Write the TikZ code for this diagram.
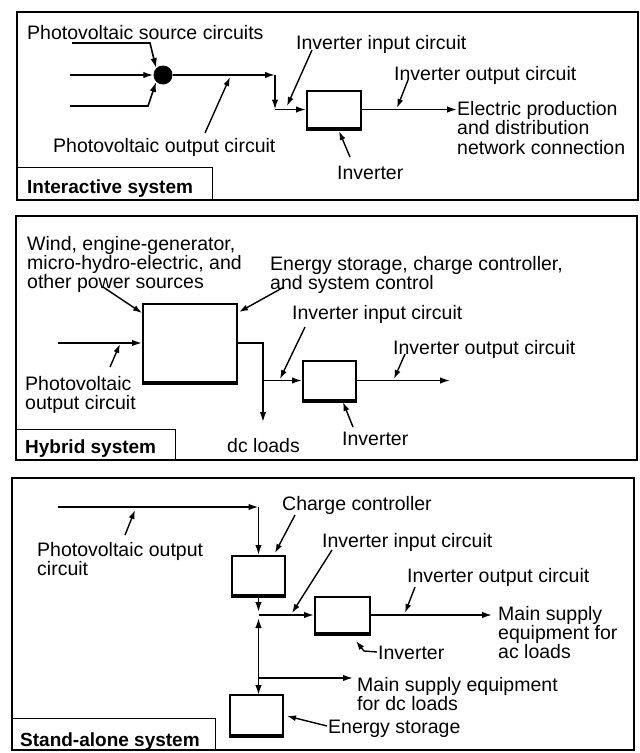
\documentclass[tikz,border=0pt]{standalone}
\usepackage{fontspec}
\setmainfont{Liberation Sans}
\usetikzlibrary{arrows.meta}
\begin{document}
\begin{tikzpicture}[x=1pt,y=-1pt,
  lab/.style={anchor=north west, inner sep=0pt, align=left, font=\fontsize{19.5}{18.5}\selectfont},
  ttl/.style={anchor=north west, inner sep=0pt, font=\bfseries\fontsize{19}{20}\selectfont},
  blk/.style={draw, line width=2pt, inner sep=0pt, fill=white},
  wire/.style={line width=1.6pt, -{Latex[length=10pt,width=6.5pt]}},
  plainwire/.style={line width=1.6pt},
  ptr/.style={line width=1.4pt, -{Latex[length=9pt,width=6pt]}},
  frame/.style={line width=1.4pt},
  heavy/.style={line width=3.4pt}
]
\useasboundingbox (0,0) rectangle (640,753);

% ---------------- Panel 1 : Interactive system ----------------
\draw[frame] (17,12) rectangle (638,200);
\node[draw, frame, minimum width=195pt, minimum height=33pt, inner sep=0pt, anchor=north west] (t1box) at (17,167) {};
\node[ttl] (t1) at (27,180) {Interactive system};

\node[lab] (src) at (27,25) {Photovoltaic source circuits};
\node[lab] (inin1) at (296,35) {Inverter input circuit};
\node[lab] (inout1) at (394,66) {Inverter output circuit};
\node[lab, font=\fontsize{19.5}{19.5}\selectfont] (elec) at (457,101) {Electric production\\and distribution\\network connection};
\node[lab] (pvout1) at (53,138) {Photovoltaic output circuit};
\node[lab] (inv1lab) at (337,166) {Inverter};

\node[circle, fill=black, minimum size=19pt, inner sep=0pt] (dot) at (163,75) {};
\node[blk, minimum width=54pt, minimum height=37pt] (inv1) at (334,109.5) {};
\draw[heavy] (inv1.south west) -- (inv1.south east);

\coordinate (s1a) at (72,43);
\coordinate (s1b) at (150,43);
\coordinate (s2a) at (70,75);
\coordinate (s3a) at (70,106);
\coordinate (s3b) at (148,106);
\draw[wire] (s1a) -- (s1b) -- (dot.north west);
\draw[wire] (s2a) -- (dot.west);
\draw[wire] (s3a) -- (s3b) -- (dot.south west);

\coordinate (c1) at (275,75);
\coordinate (c2) at (275,109.5);
\draw[wire] (dot.east) -- (c1);
\draw[wire] (c1) -- (c2);
\draw[wire] (c2) -- (inv1.west);
\coordinate (e1) at (457,109.5);
\draw[wire] (inv1.east) -- (e1);

\coordinate (p1a) at (205,133);
\coordinate (p1b) at (230,77);
\draw[ptr] (p1a) -- (p1b);
\coordinate (p2a) at (312,50);
\coordinate (p2b) at (287,106);
\draw[ptr] (p2a) -- (p2b);
\coordinate (p3a) at (408,80);
\coordinate (p3b) at (397,108);
\draw[ptr] (p3a) -- (p3b);
\coordinate (p4a) at (350,157);
\coordinate (p4b) at (339,131);
\draw[ptr] (p4a) -- (p4b);

% ---------------- Panel 2 : Hybrid system ----------------
\draw[frame] (16,216) rectangle (637,460);
\node[draw, frame, minimum width=159pt, minimum height=31pt, inner sep=0pt, anchor=north west] (t2box) at (16,429) {};
\node[ttl] (t2) at (25,440) {Hybrid system};

\node[lab, font=\fontsize{19.5}{17.5}\selectfont] (wind) at (27,236) {Wind, engine-generator,\\micro-hydro-electric, and\\other power sources};
\node[lab, font=\fontsize{19.5}{14.5}\selectfont] (energy) at (270,256) {Energy storage, charge controller,\\and system control};
\node[lab] (inin2) at (292,305) {Inverter input circuit};
\node[lab] (inout2) at (393,340) {Inverter output circuit};
\node[lab, font=\fontsize{19.5}{19}\selectfont] (pvout2) at (25,376) {Photovoltaic\\output circuit};
\node[lab] (inv2lab) at (342,432) {Inverter};
\node[lab] (dcl2) at (227,438) {dc loads};

\node[blk, minimum width=94pt, minimum height=78pt] (big) at (190,343) {};
\draw[heavy] (big.south west) -- (big.south east);
\node[blk, minimum width=53pt, minimum height=39pt] (inv2) at (329.5,380.5) {};
\draw[heavy] (inv2.south west) -- (inv2.south east);

\coordinate (h1) at (58,343);
\draw[wire] (h1) -- (big.west);
\coordinate (h2) at (263,343);
\coordinate (h3) at (263,380.5);
\coordinate (h4) at (263,422);
\draw[plainwire] (big.east) -- (h2) -- (h3);
\draw[wire] (h3) -- (h4);
\draw[wire] (h3) -- (inv2.west);
\coordinate (h5) at (450,380.5);
\draw[wire] (inv2.east) -- (h5);

\coordinate (q1a) at (110,367);
\coordinate (q1b) at (120,344);
\draw[ptr] (q1a) -- (q1b);
\coordinate (q2a) at (103,287);
\coordinate (q2b) at (142,313);
\draw[ptr] (q2a) -- (q2b);
\coordinate (q3a) at (284,287);
\coordinate (q3b) at (239,312);
\draw[ptr] (q3a) -- (q3b);
\coordinate (q4a) at (305,327);
\coordinate (q4b) at (280,379);
\draw[ptr] (q4a) -- (q4b);
\coordinate (q5a) at (405,354);
\coordinate (q5b) at (394,379);
\draw[ptr] (q5a) -- (q5b);
\coordinate (q6a) at (353,427);
\coordinate (q6b) at (343,402);
\draw[ptr] (q6a) -- (q6b);

% ---------------- Panel 3 : Stand-alone system ----------------
\draw[frame] (12,478) rectangle (634,750);
\node[draw, frame, minimum width=203pt, minimum height=32pt, inner sep=0pt, anchor=north west] (t3box) at (12,718) {};
\node[ttl] (t3) at (20,733) {Stand-alone system};

\node[lab] (cc) at (282,496) {Charge controller};
\node[lab] (inin3) at (322,533) {Inverter input circuit};
\node[lab, font=\fontsize{19.5}{19}\selectfont] (pvout3) at (37,542) {Photovoltaic output\\circuit};
\node[lab] (inout3) at (407,568) {Inverter output circuit};
\node[lab, font=\fontsize{19.5}{17.5}\selectfont] (acl) at (498,606) {Main supply\\equipment for\\ac loads};
\node[lab] (inv3lab) at (378,646) {Inverter};
\node[lab, font=\fontsize{19.5}{19}\selectfont] (dcl3) at (357,677) {Main supply equipment\\for dc loads};
\node[lab] (es) at (328,720) {Energy storage};

\node[blk, minimum width=53pt, minimum height=39pt] (ccbox) at (258.5,575.5) {};
\draw[heavy] (ccbox.south west) -- (ccbox.south east);
\node[blk, minimum width=55pt, minimum height=36pt] (inv3) at (342.5,615) {};
\draw[heavy] (inv3.south west) -- (inv3.south east);
\node[blk, minimum width=53pt, minimum height=40pt] (esbox) at (256.5,715) {};
\draw[heavy] (esbox.south west) -- (esbox.south east);

\coordinate (k1) at (58,507);
\coordinate (k2) at (258.5,507);
\draw[wire] (k1) -- (k2);
\draw[wire] (k2) -- (ccbox.north);
\coordinate (jd) at (258.5,612);
\coordinate (j) at (258.5,615);
\coordinate (ju) at (258.5,618);
\coordinate (jdc) at (258.5,678);
\coordinate (jes) at (258.5,695);
\draw[wire] (ccbox.south) -- (jd);
\draw[wire] (jdc) -- (ju);
\draw[wire] (jdc) -- (jes);
\draw[wire] (j) -- (inv3.west);
\coordinate (k3) at (492,615);
\draw[wire] (inv3.east) -- (k3);
\coordinate (k4) at (353,678);
\draw[wire] (jdc) -- (k4);

\coordinate (r1a) at (125,535);
\coordinate (r1b) at (135,510);
\draw[ptr] (r1a) -- (r1b);
\coordinate (r2a) at (295,515);
\coordinate (r2b) at (275,553);
\draw[ptr] (r2a) -- (r2b);
\coordinate (r3a) at (332,550);
\coordinate (r3b) at (292,613);
\draw[ptr] (r3a) -- (r3b);
\coordinate (r4a) at (415,587);
\coordinate (r4b) at (405,613);
\draw[ptr] (r4a) -- (r4b);
\coordinate (r5a) at (377,652);
\coordinate (r5b) at (364,651);
\coordinate (r5c) at (356,641);
\draw[ptr] (r5a) -- (r5b) -- (r5c);
\coordinate (r6a) at (327,726);
\coordinate (r6b) at (287,716);
\draw[ptr] (r6a) -- (r6b);
\end{tikzpicture}
\end{document}
